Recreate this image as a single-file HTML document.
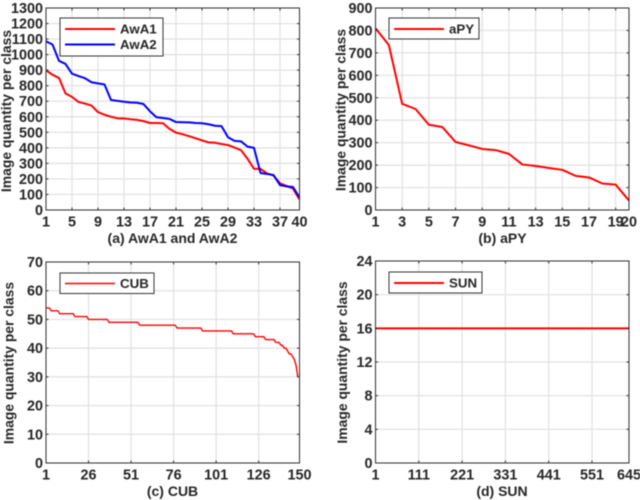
<!DOCTYPE html>
<html lang="en">
<head>
<meta charset="utf-8">
<title>Image quantity per class</title>
<style>
html,body{margin:0;padding:0;background:#fff;width:640px;height:500px;overflow:hidden}
svg{display:block;filter:blur(0.45px)}
text{font-family:"Liberation Sans",sans-serif;fill:#262626;font-weight:bold}
</style>
</head>
<body>
<svg id="figure" xmlns="http://www.w3.org/2000/svg" width="640" height="500" viewBox="0 0 640 500"></svg>
<script>
const awa1Values = [900,870,850,750,728,695,685,672,630,613,600,590,589,584,580,572,560,560,558,522,498,488,475,462,448,435,433,425,418,402,385,330,265,265,235,222,172,155,138,68];
const awa2Values = [1085,1065,960,940,877,862,848,822,815,808,708,702,697,692,690,682,635,597,592,586,566,565,564,560,558,552,542,540,468,445,442,408,400,238,232,225,160,152,148,80];
const apyValues = [810,735,473,450,380,370,303,288,272,267,250,203,196,187,179,152,145,118,113,42];
const cubValues = [54,54,54,53,53,53,53,53,52,52,52,52,52,52,52,52,52,51,51,51,51,51,51,51,51,50,50,50,50,50,50,50,50,50,50,50,50,49,49,49,49,49,49,49,49,49,49,49,49,49,49,49,49,49,49,48,48,48,48,48,48,48,48,48,48,48,48,48,48,48,48,48,48,48,48,48,48,47,47,47,47,47,47,47,47,47,47,47,47,47,47,47,46,46,46,46,46,46,46,46,46,46,46,46,46,46,46,46,46,46,45,45,45,45,45,45,45,45,45,45,45,45,45,44,44,44,44,44,44,43,43,43,43,43,43,42,42,42,41,41,40,40,39,38,38,37,36,34,30];
const sunClasses = [1,645];
const sunValues = [16,16];
const awaXTicks = [1,5,9,13,17,21,25,29,33,37,40];
const awaYTicks = [0,100,200,300,400,500,600,700,800,900,1000,1100,1200,1300];
const apyXTicks = [1,3,5,7,9,11,13,15,17,19,20];
const apyYTicks = [0,100,200,300,400,500,600,700,800,900];
const cubXTicks = [1,26,51,76,101,126,150];
const cubYTicks = [0,10,20,30,40,50,60,70];
const sunXTicks = [1,111,221,331,441,551,645];
const sunYTicks = [0,4,8,12,16,20,24];

const svg = document.getElementById('figure');
const NS = 'http://www.w3.org/2000/svg';
function make(tag, props, parent, txt) {
  const el = document.createElementNS(NS, tag);
  for (const k in props) el.setAttribute(k, props[k]);
  if (txt !== undefined) el.textContent = txt;
  parent.appendChild(el);
  return el;
}
function indexed(values) { return values.map(function (v, i) { return [i + 1, v]; }); }

function drawPanel(p) {
  const g = make('g', {}, svg);
  
  
  const x = function (v) { return p.left + (v - p.xMin) / (p.xMax - p.xMin) * (p.right - p.left); };
  const y = function (v) { return p.bottom - v / p.yMax * (p.bottom - p.top); };

  p.xTicks.forEach(function (t) {
    const grid = make('line', {x1:x(t),x2:x(t),y1:p.top,y2:p.bottom,stroke:'#e0e0e0','stroke-width':1.2}, g);
    
    
  });
  p.yTicks.forEach(function (t) {
    const grid = make('line', {x1:p.left,x2:p.right,y1:y(t),y2:y(t),stroke:'#e0e0e0','stroke-width':1.2}, g);
    
    
  });

  p.series.forEach(function (s) {
    const pts = s.points.map(function (d) { return x(d[0]).toFixed(2) + ',' + y(d[1]).toFixed(2); }).join(' ');
    const line = make('polyline', {points:pts,fill:'none',stroke:s.color,'stroke-width':s.width,'stroke-linejoin':'round'}, g);
    
    
  });

  const box = make('rect', {x:p.left,y:p.top,width:p.right-p.left,height:p.bottom-p.top,fill:'none',stroke:'#333','stroke-width':1}, g);
  
  

  p.xTicks.forEach(function (t) {
    const m1 = make('line', {x1:x(t),x2:x(t),y1:p.bottom,y2:p.bottom-2.5,stroke:'#333','stroke-width':1}, g);
    
    
    const m2 = make('line', {x1:x(t),x2:x(t),y1:p.top,y2:p.top+2.5,stroke:'#333','stroke-width':1}, g);
    
    
    const lab = make('text', {x:x(t),y:p.bottom+16.5,'text-anchor':'middle','font-size':p.tickSize}, g, t);
    
    
  });
  p.yTicks.forEach(function (t) {
    const m1 = make('line', {x1:p.left,x2:p.left+2.5,y1:y(t),y2:y(t),stroke:'#333','stroke-width':1}, g);
    
    
    const m2 = make('line', {x1:p.right,x2:p.right-2.5,y1:y(t),y2:y(t),stroke:'#333','stroke-width':1}, g);
    
    
    const lab = make('text', {x:p.left-3,y:y(t)+5,'text-anchor':'end','font-size':p.tickSize}, g, t);
    
    
  });

  const yt = make('text', {transform:'translate(' + p.yTitleX + ' ' + p.yTitleY + ') rotate(-90)','text-anchor':'middle','font-size':13.9}, g, 'Image quantity per class');
  
  
  const xt = make('text', {x:p.xTitleX,y:p.xTitleY,'text-anchor':'middle','font-size':14}, g, p.xTitle);
  
  

  const lg = make('g', {}, g);
  
  
  const lb = p.legend;
  make('rect', {x:lb.x,y:lb.y,width:lb.w,height:lb.h,fill:'#fff',stroke:'#333','stroke-width':1}, lg);
  p.series.forEach(function (s, i) {
    const ly = lb.y + lb.firstRow + i * lb.rowGap;
    const ll = make('line', {x1:lb.x+5,x2:lb.x+55,y1:ly,y2:ly,stroke:s.color,'stroke-width':s.width}, lg);
    
    
    const lt = make('text', {x:lb.x+60,y:ly+4.7,'font-size':13.3,fill:'#000'}, lg, s.label);
    
    
  });
}

drawPanel({name:'awa',left:46,right:299.5,top:8,bottom:210,xMin:1,xMax:40,yMax:1300,xTicks:awaXTicks,yTicks:awaYTicks,tickSize:14.4,
  yTitleX:11,yTitleY:111,xTitle:'(a) AwA1 and AwA2',xTitleX:172.5,xTitleY:243,
  legend:{x:60,y:18,w:103,h:38,firstRow:11,rowGap:15.5},
  series:[{label:'AwA1',color:'#ff0000',width:2,points:indexed(awa1Values)},{label:'AwA2',color:'#0000ff',width:2,points:indexed(awa2Values)}]});
drawPanel({name:'apy',left:375.5,right:629,top:8,bottom:210,xMin:1,xMax:20,yMax:900,xTicks:apyXTicks,yTicks:apyYTicks,tickSize:14.4,
  yTitleX:345.5,yTitleY:110,xTitle:'(b) aPY',xTitleX:502.5,xTitleY:243,
  legend:{x:389,y:18,w:90,h:21,firstRow:11,rowGap:15.5},
  series:[{label:'aPY',color:'#ff0000',width:2,points:indexed(apyValues)}]});
drawPanel({name:'cub',left:46,right:299.5,top:262,bottom:463,xMin:1,xMax:150,yMax:70,xTicks:cubXTicks,yTicks:cubYTicks,tickSize:14.4,
  yTitleX:13.5,yTitleY:363,xTitle:'(c) CUB',xTitleX:172.5,xTitleY:496,
  legend:{x:60,y:273,w:94,h:20.5,firstRow:10.5,rowGap:15.5},
  series:[{label:'CUB',color:'#ff0000',width:1.4,points:indexed(cubValues)}]});
drawPanel({name:'sun',left:375.5,right:629,top:261,bottom:463,xMin:1,xMax:645,yMax:24,xTicks:sunXTicks,yTicks:sunYTicks,tickSize:14.4,
  yTitleX:347,yTitleY:362.5,xTitle:'(d) SUN',xTitleX:502,xTitleY:496,
  legend:{x:389,y:272,w:93,h:21,firstRow:11,rowGap:15.5},
  series:[{label:'SUN',color:'#ff0000',width:2,points:sunClasses.map(function (c, i) { return [c, sunValues[i]]; })}]});
</script>
</body>
</html>
